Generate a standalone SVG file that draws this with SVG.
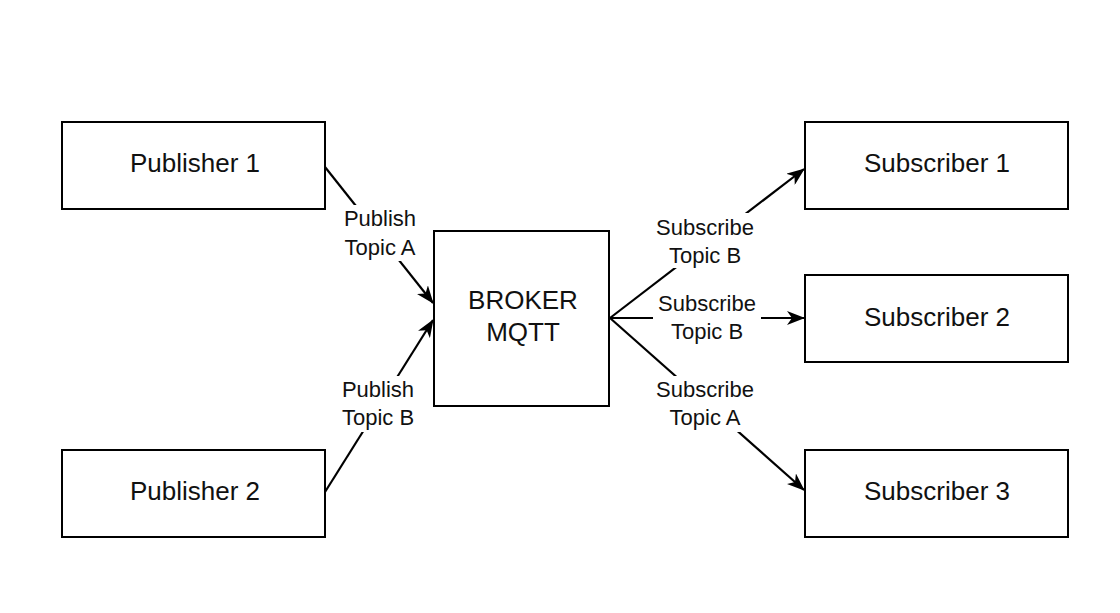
<svg xmlns="http://www.w3.org/2000/svg" width="1120" height="613" viewBox="0 0 1120 613">
<defs>
<style>
.box{fill:#fff;stroke:#000;stroke-width:2}
.nt{font-family:"Liberation Sans",Arial,sans-serif;font-size:26px;fill:#111;text-anchor:middle}
.lt{font-family:"Liberation Sans",Arial,sans-serif;font-size:22px;fill:#111;text-anchor:middle}
.ln{stroke:#000;stroke-width:2.2;fill:none;marker-end:url(#ah)}
.lbg{fill:#fff}
</style>
<marker id="ah" viewBox="0 0 18 14" refX="17" refY="7" markerWidth="18" markerHeight="14" markerUnits="userSpaceOnUse" orient="auto">
<path d="M0,0 L18,7 L0,14 L5,7 Z" fill="#000"/>
</marker>
</defs>
<rect width="1120" height="613" fill="#fff"/>
<g id="connectors">
<line class="ln" x1="325" y1="167" x2="433" y2="303"/>
<line class="ln" x1="325" y1="492" x2="433" y2="320"/>
<line class="ln" x1="610" y1="318" x2="804" y2="169"/>
<line class="ln" x1="610" y1="318" x2="804" y2="318"/>
<line class="ln" x1="610" y1="318" x2="804" y2="490"/>
<g id="label-pubA"><rect class="lbg" x="340" y="205" width="82" height="56"/><text class="lt" x="380" y="226">Publish</text><text class="lt" x="380" y="255">Topic A</text></g>
<g id="label-pubB"><rect class="lbg" x="336" y="376" width="84" height="56"/><text class="lt" x="378" y="397">Publish</text><text class="lt" x="378" y="425">Topic B</text></g>
<g id="label-subB1"><rect class="lbg" x="650" y="213" width="112" height="55"/><text class="lt" x="705" y="235">Subscribe</text><text class="lt" x="705" y="263">Topic B</text></g>
<g id="label-subB2"><rect class="lbg" x="653" y="290" width="108" height="54"/><text class="lt" x="707" y="311">Subscribe</text><text class="lt" x="707" y="339">Topic B</text></g>
<g id="label-subA"><rect class="lbg" x="650" y="376" width="112" height="56"/><text class="lt" x="705" y="397">Subscribe</text><text class="lt" x="705" y="425">Topic A</text></g>
</g>
<g id="publisher1"><rect class="box" x="62" y="122" width="263" height="87"/><text class="nt" x="195" y="172">Publisher 1</text></g>
<g id="publisher2"><rect class="box" x="62" y="450" width="263" height="87"/><text class="nt" x="195" y="500">Publisher 2</text></g>
<g id="broker"><rect class="box" x="434" y="231" width="175" height="175"/><text class="nt" x="523" y="309">BROKER</text><text class="nt" x="523" y="341">MQTT</text></g>
<g id="subscriber1"><rect class="box" x="805" y="122" width="263" height="87"/><text class="nt" x="937" y="172">Subscriber 1</text></g>
<g id="subscriber2"><rect class="box" x="805" y="275" width="263" height="87"/><text class="nt" x="937" y="326">Subscriber 2</text></g>
<g id="subscriber3"><rect class="box" x="805" y="450" width="263" height="87"/><text class="nt" x="937" y="500">Subscriber 3</text></g>
</svg>
